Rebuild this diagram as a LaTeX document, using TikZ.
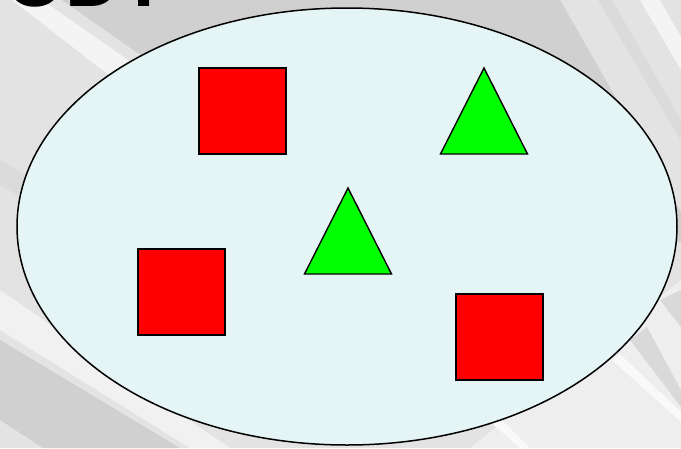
\documentclass[tikz,border=0pt]{standalone}
\usepackage{fontspec}
\setmainfont{Liberation Sans}
\definecolor{bglight}{HTML}{E3E3E3}
\definecolor{bgdark}{HTML}{D0D0D0}
\definecolor{setfill}{HTML}{E5F5F5}
\definecolor{sqred}{HTML}{FF0000}
\definecolor{trigreen}{HTML}{00FF00}
\begin{document}
\begin{tikzpicture}[x=1pt, y=-1pt]
  \useasboundingbox (0,0) rectangle (681,448);
  \clip (0,0) rectangle (681,448);
  % background streaks
  \fill[bglight] (0,0) rectangle (681,448);
  \fill[white!60!bglight] (12,0) -- (42,0) -- (300,180) -- (270,200) -- cycle;
  \fill[bgdark] (62,0) -- (560,0) -- (700,245) -- (330,188) -- cycle;
  \fill[black!14] (0,160) -- (80,205) -- (70,225) -- (0,185) -- cycle;
  \fill[white!50!bglight] (0,290) -- (230,448) -- (190,448) -- (0,330) -- cycle;
  \fill[bgdark] (0,340) -- (180,448) -- (43,448) -- (0,420) -- cycle;
  \fill[black!14] (598,0) -- (612,0) -- (681,120) -- (681,141) -- cycle;
  \fill[white!60!bglight] (640,0) -- (660,0) -- (681,37) -- (681,70) -- cycle;
  \fill[white!40!bglight] (470,448) -- (681,280) -- (681,448) -- cycle;
  \fill[black!15] (660,300) -- (681,290) -- (681,327) -- cycle;
  \fill[black!15] (630,340) -- (647,327) -- (681,390) -- (681,407) -- cycle;
  \fill[white!80!bglight] (612,360) -- (620,354) -- (681,412) -- (681,422) -- cycle;
  \fill[white!80!bglight] (490,422) -- (500,418) -- (530,448) -- (520,448) -- cycle;
  % title, mostly cut off
  \node[anchor=base west, inner sep=0pt, font=\fontsize{77}{77}\selectfont\bfseries]
    (title) at (5,6) {ODT};
  % the set
  \draw[line width=1.5pt, fill=setfill] (347,226.5) ellipse [x radius=330, y radius=218.5];
  \foreach \x/\y in {199/68, 138/249, 456/294} {
    \draw[line width=1.4pt, fill=sqred] (\x,\y) rectangle ++(87,86);
  }
  \foreach \x/\y in {484/68, 348/188} {
    \draw[line width=1.4pt, fill=trigreen] (\x,\y) -- (\x+43.5,\y+86) -- (\x-43.5,\y+86) -- cycle;
  }
\end{tikzpicture}
\end{document}
